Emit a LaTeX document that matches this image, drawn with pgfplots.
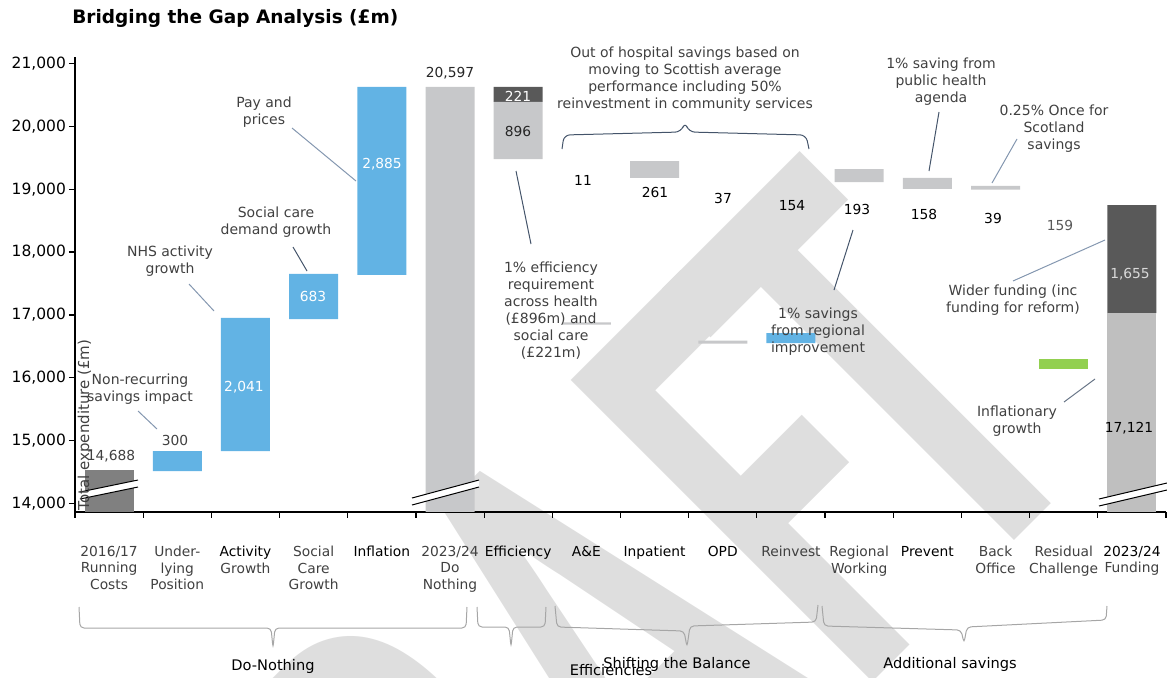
\documentclass[border=0pt]{standalone}
\usepackage{fontspec}
\setmainfont{DejaVu Sans}
\newfontfamily\wmfont{Carlito}
\usepackage{pgfplots}
\usepackage{pgfplotstable}
\pgfplotsset{compat=1.18}

\definecolor{barblue}{HTML}{62B3E4}
\definecolor{lgray}{HTML}{C7C8CA}
\definecolor{lgrayB}{HTML}{BFBFBF}
\definecolor{dgray}{HTML}{595959}
\definecolor{mgray}{HTML}{808080}
\definecolor{bargreen}{HTML}{92D050}
\definecolor{wm}{HTML}{DEDEDE}
\definecolor{slate}{HTML}{44546A}
\definecolor{slatel}{HTML}{8497B0}
\definecolor{brg}{HTML}{A6A6A6}
\definecolor{txt}{HTML}{404040}

% floating waterfall: invisible base + coloured pieces
\pgfplotstableread{
x  base   gA     blue  lg     lgB    green dk
0  0      14533  0     0      0      0     0
1  14517  0      318   0      0      0     0
2  14835  0      2116  0      0      0     0
3  16935  0      716   0      0      0     0
4  17635  0      2991  0      0      0     0
5  0      0      0     20626  0      0     0
6  19480  0      0     907    0      0     239
7  16847  0      0     36     0      0     0
8  19178  0      0     270    0      0     0
9  16545  0      0     45     0      0     0
10 16553  0      159   0      0      0     0
11 19114  0      0     207    0      0     0
12 19003  0      0     175    0      0     0
13 18995  0      0     56     0      0     0
14 16140  0      0     0      0      159   0
15 0      0      0     0      17030  0     1718
}\gapdata

\begin{document}
\begin{tikzpicture}
\begin{scope}[x=0.5pt,y=-0.5pt,shift={(0pt,338.5pt)}]
\node[overlay,rotate=45,anchor=base,text=wm,inner sep=0pt] at (718,837)
  {\wmfont\bfseries\fontsize{329pt}{329pt}\selectfont\scalebox{0.62}[1]{DRA\kern8pt F\kern-32pt T}};
\end{scope}

\begin{axis}[at={(37.5pt,82.5pt)},anchor=south west,scale only axis,
 width=545.5pt,height=227.5pt,
 xmin=-0.5,xmax=15.5,ymin=13865,ymax=21103,
 ybar stacked,bar width=24.5pt,
 axis x line*=bottom,axis y line*=left,
 axis line style={line width=0.8pt,black},
 tick align=outside,major tick length=3pt,minor tick length=3pt,
 ytick={14000,15000,...,21000},scaled y ticks=false,
 ytick style={black,line width=0.6pt},
 yticklabel style={font=\fontsize{7.75pt}{9pt}\selectfont,text=black,xshift=2pt},
 /pgf/number format/1000 sep={,},
 /pgf/number format/assume math mode=true,
 xtick={0,...,15},
 major x tick style={draw=none},
 minor xtick={-0.5,0.5,...,15.5},
 minor x tick style={black,line width=0.6pt},
 xticklabels={{2016/17\\Running\\Costs},{Under-\\lying\\Position},{\color{black}Activity\\Growth},
  {Social\\Care\\Growth},{\color{black}Inflation},{2023/24\\Do\\Nothing},{\color{black}Efficiency},
  {\color{black}A\&E},{\color{black}Inpatient},{\color{black}OPD},{Reinvest},{Regional\\Working},
  {\color{black}Prevent},{Back\\Office},{Residual\\Challenge},{\color{black}2023/24\\Funding}},
 xticklabel style={align=center,font=\fontsize{6.9pt}{8.25pt}\selectfont,
  text=txt,yshift=-10.5pt},
]
\addplot[draw=none,fill=none,forget plot] table[x=x,y=base]{\gapdata};
\addplot[draw=none,fill=mgray] table[x=x,y=gA]{\gapdata};
\addplot[draw=none,fill=barblue] table[x=x,y=blue]{\gapdata};
\addplot[draw=none,fill=lgray] table[x=x,y=lg]{\gapdata};
\addplot[draw=none,fill=lgrayB] table[x=x,y=lgB]{\gapdata};
\addplot[draw=none,fill=bargreen] table[x=x,y=green]{\gapdata};
\addplot[draw=none,fill=dgray] table[x=x,y=dk]{\gapdata};
\end{axis}

\begin{scope}[x=0.5pt,y=-0.5pt,shift={(0pt,338.5pt)}]
% title
\node[anchor=west,inner sep=0pt,font=\bfseries\fontsize{9.25pt}{11pt}\selectfont] at (72,18)
  {Bridging the Gap Analysis (£m)};
% axis breaks
\foreach \xa/\ya/\xb/\yb in {80/492/138/480, 412/498/479/480, 1099/499/1167/483}{
  \fill[white] (\xa,\ya) -- (\xb,\yb) -- (\xb,\yb+7) -- (\xa,\ya+7) -- cycle;
  \draw[black,line width=0.5pt] (\xa,\ya) -- (\xb,\yb) (\xa,\ya+7) -- (\xb,\yb+7);
}
% value labels
\begin{scope}[every node/.style={font=\fontsize{6.9pt}{8pt}\selectfont,inner sep=0pt}]
\node[text=txt] at (111,456) {14,688};
\node[text=txt] at (175,440) {300};
\node[text=white] at (244,387) {2,041};
\node[text=white] at (313,296) {683};
\node[text=white] at (382,164) {2,885};
\node[text=black!85] at (450,73) {20,597};
\node[text=white] at (518,96) {221};
\node[text=black!85] at (518,131) {896};
\node at (583,180) {11};
\node at (655,192) {261};
\node at (723,198) {37};
\node at (792,206) {154};
\node at (857,209) {193};
\node at (924,214) {158};
\node at (993,218) {39};
\node[text=dgray] at (1060,225) {159};
\node[text=black!15] at (1130,274) {1,655};
\node at (1129,428) {17,121};
\end{scope}
% y label
\node[rotate=90,text=txt,inner sep=0pt,font=\fontsize{7.5pt}{9pt}\selectfont] at (85,425)
  {Total expenditure (£m)};
% callouts
\begin{scope}[every node/.style={align=center,text=txt,inner sep=0pt,
   font=\fontsize{7pt}{8.5pt}\selectfont}]
\node at (264,112.5) {Pay and\\prices};
\node at (276,222.5) {Social care\\demand growth};
\node at (170,261.5) {NHS activity\\growth};
\node at (140,389.5) {Non-recurring\\savings impact};
\node at (551,310.5) {1\% efficiency\\requirement\\across health\\(£896m) and\\social care\\(£221m)};
\node at (685,79.5) {Out of hospital savings based on\\moving to Scottish average\\performance including 50\%\\reinvestment in community services};
\node at (818,332) {1\% savings\\from regional\\improvement};
\node at (941,82) {1\% saving from\\public health\\agenda};
\node at (1054,129) {0.25\% Once for\\Scotland\\savings};
\node at (1013,300.5) {Wider funding (inc\\funding for reform)};
\node at (1017,421.5) {Inflationary\\growth};
\end{scope}
\draw[slatel,line width=0.5pt] (292,128) -- (356,181);
\draw[slate,line width=0.5pt] (293,247) -- (307,271);
\draw[slatel,line width=0.5pt] (189,284) -- (214,311);
\draw[slatel,line width=0.5pt] (138,411) -- (157,429);
\draw[slate,line width=0.5pt] (516,171) -- (531,244);
\draw[slate,line width=0.5pt] (853,230) -- (834,290);
\draw[slate,line width=0.5pt] (939,112) -- (929,171);
\draw[slatel,line width=0.5pt] (1017,139) -- (992,183);
\draw[slatel,line width=0.5pt] (1013,281) -- (1105,240);
\draw[slate!80,line width=0.5pt] (1064,402) -- (1095,379);
\draw[slate,line width=0.5pt,rounded corners=3pt] (562,149) -- (564,135) -- (681,132)
  -- (685,122) -- (689,132) -- (806,135) -- (809,149);
% group braces
\begin{scope}[brg,line width=0.5pt,rounded corners=2pt]
\draw (79,607) -- (80,628) -- (271,628) -- (273,648) -- (275,628) -- (466,628) -- (467,607);
\draw (477,607) -- (478,627) -- (509,627) -- (511,647) -- (513,627) -- (545,627) -- (546,607);
\draw (555,606) -- (557,627) -- (684,631) -- (687,647) -- (690,626) -- (816,622) -- (818,605);
\draw (822,606) -- (824,626) -- (961,630) -- (964,643) -- (967,627) -- (1106,620) -- (1107,606);
\end{scope}
\begin{scope}[every node/.style={inner sep=0pt,font=\fontsize{7.3pt}{9pt}\selectfont}]
\node at (273,666) {Do-Nothing};
\node at (611,670) {Efficiencies};
\node at (677,664) {Shifting the Balance};
\node at (950,664) {Additional savings};
\end{scope}
\end{scope}
\pgfresetboundingbox
\path (0,0) rectangle (583.5pt,338.5pt);
\end{tikzpicture}
\end{document}
